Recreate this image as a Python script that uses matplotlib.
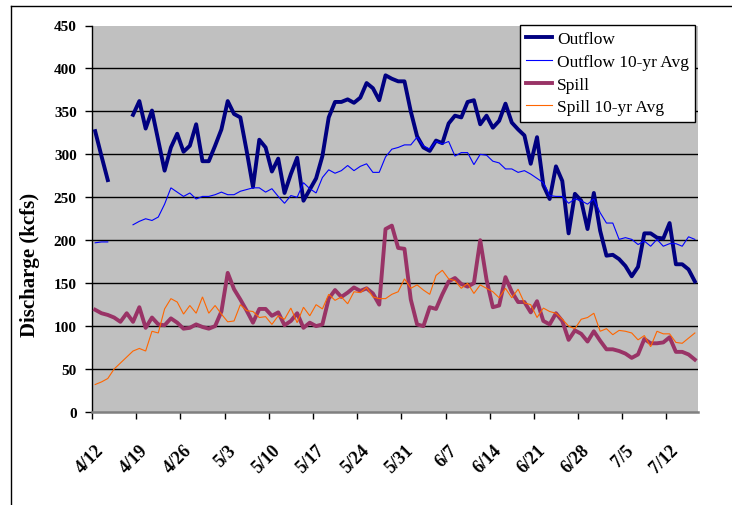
import numpy as np
import matplotlib
matplotlib.use("Agg")
import matplotlib.pyplot as plt
from matplotlib.lines import Line2D
import datetime as dt

nan = np.nan

start = dt.date(2000, 4, 12)
n_days = 96
dates = [start + dt.timedelta(days=k) for k in range(n_days)]
date_labels = [f"{d.month}/{d.day}" for d in dates]

outflow = [327, 298, 270, nan, nan, nan, 346, 362, 330, 351, 316, 281, 308, 324, 303, 310,
           335, 292, 292, 310, 329, 362, 347, 343, 304, 262, 317, 308, 280, 295, 255, 277,
           296, 246, 259, 272, 298, 343, 361, 361, 364, 360, 366, 383, 377, 363, 392, 388,
           385, 385, 350, 321, 308, 304, 316, 313, 336, 345, 343, 361, 363, 335, 345, 331,
           339, 359, 337, 329, 322, 289, 320, 264, 248, 286, 269, 208, 254, 246, 213, 255,
           211, 182, 183, 178, 170, 158, 169, 208, 208, 203, 202, 220, 172, 172, 166, 152]

outflow_avg = [197, 198, 198, nan, nan, nan, 218, 222, 225, 223, 227, 242, 261, 256, 251, 255,
               248, 251, 251, 253, 256, 253, 253, 257, 259, 261, 261, 256, 260, 251, 243, 252,
               250, 267, 260, 255, 273, 282, 278, 281, 287, 281, 286, 289, 279, 279, 297, 306,
               308, 311, 311, 320, 310, 306, 315, 312, 315, 298, 302, 302, 288, 300, 299, 292,
               290, 283, 283, 279, 281, 277, 272, 267, 252, 251, 251, 243, 248, 246, 242, 248,
               232, 220, 220, 201, 203, 201, 195, 199, 193, 201, 193, 196, 196, 193, 204, 201]

spill = [119, 115, 113, 110, 105, 115, 105, 122, 98, 110, 102, 101, 109, 104, 97, 98,
         102, 99, 97, 100, 117, 162, 143, 131, 118, 104, 120, 120, 112, 116, 101, 106,
         115, 98, 104, 100, 102, 132, 142, 134, 139, 145, 141, 144, 138, 125, 213, 217,
         191, 190, 131, 102, 100, 122, 120, 137, 152, 156, 149, 146, 150, 200, 154, 122,
         124, 157, 140, 128, 128, 116, 129, 106, 102, 115, 106, 84, 95, 91, 82, 94,
         83, 73, 73, 71, 68, 63, 67, 85, 80, 80, 81, 87, 70, 70, 67, 61]

spill_avg = [32, 35, 39, 50, 57, 64, 71, 74, 71, 94, 92, 120, 132, 128, 114, 124,
             115, 134, 115, 124, 114, 105, 106, 125, 118, 117, 110, 111, 102, 112, 108, 121,
             104, 122, 112, 125, 120, 137, 130, 134, 126, 140, 139, 145, 134, 132, 132, 137,
             140, 155, 144, 148, 142, 137, 159, 165, 155, 153, 144, 150, 138, 148, 144, 140,
             133, 144, 133, 143, 127, 125, 110, 121, 117, 115, 108, 100, 97, 108, 110, 115,
             94, 97, 90, 95, 94, 92, 84, 89, 76, 94, 91, 91, 81, 80, 86, 92]

series_names = ["Outflow", "Outflow 10-yr Avg", "Spill", "Spill 10-yr Avg"]
colors = ["#000080", "#0000FF", "#993366", "#FF6600"]
widths = [2.8, 0.8, 2.8, 0.8]

W, H = 732, 506
fig = plt.figure(figsize=(W / 100, H / 100), dpi=100)
serif = ["Liberation Serif", "DejaVu Serif"]

# outer frame (left and top edges)
fig.add_artist(Line2D([10.5 / W, 10.5 / W], [0, 1 - 6.5 / H], color="black", lw=1.0))
fig.add_artist(Line2D([10.5 / W, 1], [1 - 6.5 / H, 1 - 6.5 / H], color="black", lw=1.0))

left, right, top, bottom = 92, 698, 26.5, 413
ax = fig.add_axes([left / W, 1 - bottom / H, (right - left) / W, (bottom - top) / H])
ax.set_facecolor("#C0C0C0")

x = np.arange(n_days)
for name, vals, c, lw in zip(series_names, [outflow, outflow_avg, spill, spill_avg], colors, widths):
    ax.plot(x, np.array(vals, dtype=float), color=c, lw=lw, label=name,
            solid_joinstyle="miter" if lw < 1 else "round", zorder=3)

ax.set_xlim(-0.5, n_days - 0.5)
ax.set_ylim(0, 450)

for yv in range(50, 450, 50):
    ax.axhline(yv, color="black", lw=1.0, zorder=1)

ax.set_yticks(range(0, 451, 50))
ax.set_yticklabels([str(v) for v in range(0, 451, 50)], fontfamily=serif,
                   fontweight="bold", fontsize=11)
ax.tick_params(axis="y", direction="out", length=5, width=1, pad=6)

major = np.arange(0, n_days, 7) - 0.5
ax.set_xticks(major)
ax.set_xticklabels([])
ax.tick_params(axis="x", which="major", direction="out", length=5, width=1)
minor = np.arange(0, n_days, 7)
ax.set_xticks(minor, minor=True)
ax.set_xticklabels([date_labels[k] for k in minor], minor=True, rotation=45,
                   ha="right", va="top", rotation_mode="anchor",
                   fontfamily=serif, fontweight="bold", fontsize=13)
ax.tick_params(axis="x", which="minor", length=0, pad=21)

for s in ["top", "right"]:
    ax.spines[s].set_visible(False)
ax.spines["left"].set_color("black")
ax.spines["left"].set_linewidth(1.0)
ax.spines["bottom"].set_color("#808080")
ax.spines["bottom"].set_linewidth(1.8)

fig.text(30 / W, 1 - 265 / H, "Discharge (kcfs)", rotation=90, ha="center", va="center",
         fontfamily=serif, fontweight="bold", fontsize=15)

leg = ax.legend(loc="upper left", bbox_to_anchor=((520 - left) / (right - left), 1 - (26 - top) / (bottom - top)),
                prop={"family": serif, "size": 12.5}, frameon=True, fancybox=False,
                edgecolor="black", facecolor="white", framealpha=1, handlelength=1.5,
                handletextpad=0.3, labelspacing=0.38, borderpad=0.35, borderaxespad=0)
leg.get_frame().set_linewidth(1.0)
leg.set_zorder(5)

fig.savefig("out.png", dpi=100)
